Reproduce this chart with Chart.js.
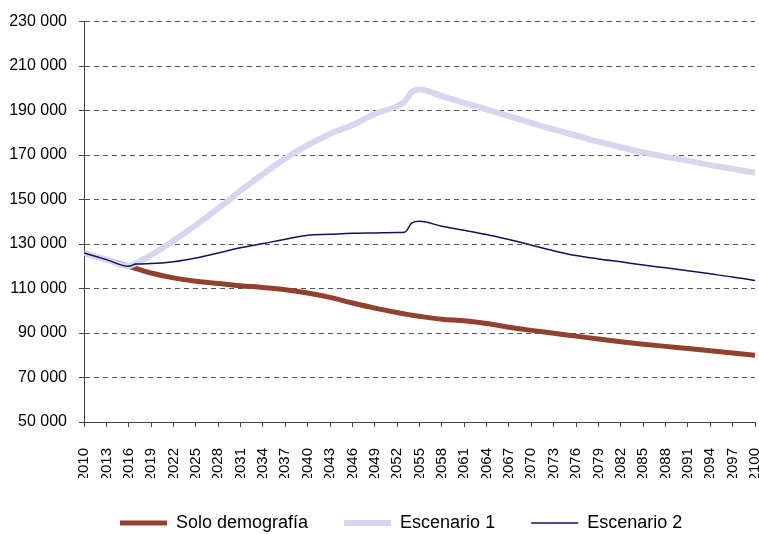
<!DOCTYPE html>
<html>
<head>
<meta charset="utf-8">
<script src="https://cdn.jsdelivr.net/npm/chart.js@4"></script>
<style>
  html, body { margin: 0; padding: 0; background: #fff; }
  #wrap { width: 759px; height: 534px; }
</style>
</head>
<body>
<div id="wrap"><canvas id="grafico"></canvas></div>
<script>
var years = [2010, 2013, 2016, 2017, 2019, 2022, 2025, 2028, 2031, 2034, 2037, 2040, 2043, 2046, 2049, 2052, 2053, 2054, 2055,
    2058, 2061, 2064, 2067, 2070, 2073, 2076, 2079, 2082, 2085, 2088, 2091, 2094, 2097, 2100];

var soloDemografia = [126000, 123000, 120000, 119000, 117000, 114800, 113300, 112300, 111300, 110500, 109500, 108000, 106000, 103500, 101200, 99200, 98600, 98000, 97500,
    96200, 95500, 94300, 92600, 91200, 89900, 88600, 87300, 86100, 85000, 84000, 83000, 82000, 81000, 80000];

var escenario1 = [126000, 123000, 120000, 121500, 125000, 131500, 138500, 146000, 154000, 161500, 168500, 174500, 179500, 183500, 188500, 192000, 194000, 198500, 199500,
    196500, 193500, 190500, 187500, 184500, 181500, 178800, 176000, 173500, 171200, 169200, 167500, 165500, 163800, 162000];

var escenario2 = [126000, 123000, 120000, 121000, 121200, 122000, 123700, 126000, 128300, 130200, 132200, 134000, 134400, 134800, 135000, 135200, 135300, 139500, 140200,
    138000, 136200, 134300, 132000, 129500, 127000, 124800, 123300, 122000, 120600, 119300, 118000, 116600, 115200, 113600];

var labels = ['Solo demografía', 'Escenario 1', 'Escenario 2'];
var colores = ['#94402F', '#D6D6EE', '#12125E'];

function puntos(valores) {
    return years.map(function(y, i) { return { x: y, y: valores[i] }; });
}

function miles(v) {
    return String(v).replace(/\B(?=(\d{3})+(?!\d))/g, ' ');
}

var fuente = '"Liberation Sans", Arial, sans-serif';

new Chart(document.getElementById('grafico').getContext('2d'), {
    type: 'line',
    data: {
        datasets: [{
            label: labels[0],
            data: puntos(soloDemografia),
            borderColor: colores[0],
            backgroundColor: colores[0],
            borderWidth: 5,
            pointBorderWidth: 5,
            order: 3
        }, {
            label: labels[1],
            data: puntos(escenario1),
            borderColor: colores[1],
            backgroundColor: colores[1],
            borderWidth: 6,
            pointBorderWidth: 6,
            order: 2
        }, {
            label: labels[2],
            data: puntos(escenario2),
            borderColor: colores[2],
            backgroundColor: colores[2],
            borderWidth: 1.5,
            pointBorderWidth: 1.5,
            order: 1
        }]
    },
    options: {
        responsive: true,
        maintainAspectRatio: false,
        animation: false,
        devicePixelRatio: 1,
        layout: { padding: { top: 20, left: 10, right: 4, bottom: -8 } },
        elements: {
            point: { radius: 0, hoverRadius: 0 },
            line: { cubicInterpolationMode: 'monotone', borderJoinStyle: 'round', borderCapStyle: 'butt' }
        },
        scales: {
            x: {
                type: 'linear',
                min: 2010,
                max: 2100,
                grid: { drawOnChartArea: false, tickLength: 5, tickColor: '#404040', tickWidth: 1 },
                border: { color: '#404040', width: 1 },
                ticks: {
                    stepSize: 3,
                    minRotation: 90,
                    maxRotation: 90,
                    padding: 21,
                    color: '#000',
                    font: { family: fuente, size: 15 },
                    callback: function(v) { return String(v); }
                },
                afterFit: function(scale) {
                    scale.height = 56;
                    scale.paddingLeft = 0;
                    scale.paddingRight = 0;
                }
            },
            y: {
                min: 50000,
                max: 230000,
                grid: { color: '#555', lineWidth: 1, tickLength: 5, tickColor: '#404040', tickBorderDash: [] },
                border: { color: '#404040', width: 1, dash: [5, 4] },
                ticks: {
                    stepSize: 20000,
                    padding: 12,
                    color: '#000',
                    font: { family: fuente, size: 16 },
                    callback: function(v) { return miles(v); }
                },
                afterFit: function(scale) {
                    scale.width = 74;
                }
            }
        },
        plugins: {
            tooltip: { enabled: false },
            legend: {
                position: 'bottom',
                align: 'start',
                fullSize: false,
                labels: {
                    usePointStyle: true,
                    pointStyle: 'line',
                    pointStyleWidth: 47,
                    padding: 36,
                    color: '#000',
                    font: { family: fuente, size: 18 },
                    sort: function(a, b) { return a.datasetIndex - b.datasetIndex; }
                }
            }
        }
    }
});
</script>
</body>
</html>
